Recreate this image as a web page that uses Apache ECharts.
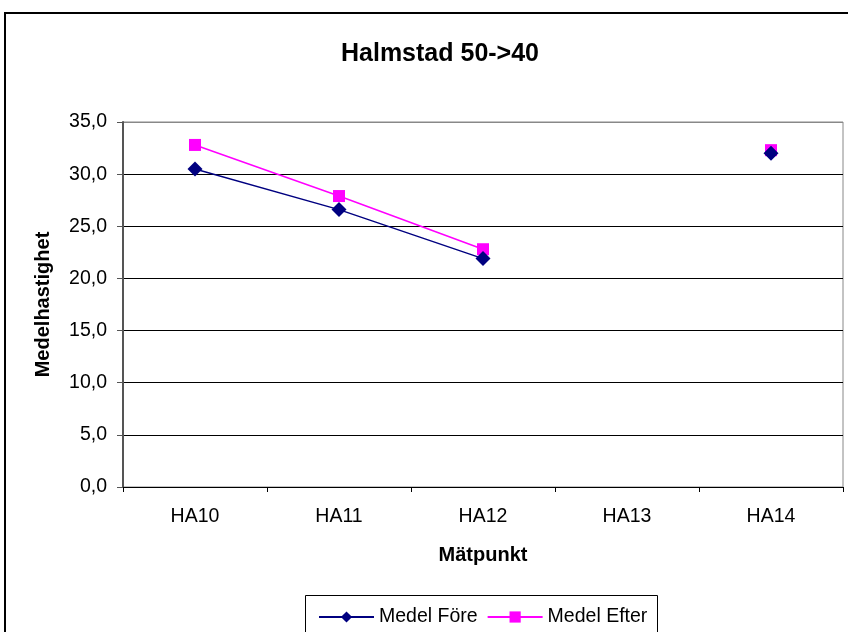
<!DOCTYPE html>
<html>
<head>
<meta charset="utf-8">
<script src="https://cdn.jsdelivr.net/npm/echarts@6/dist/echarts.min.js"></script>
<style>
  html, body { margin: 0; padding: 0; background: #fff; }
  #charts_main { width: 848px; height: 632px; }
</style>
</head>
<body>
<div id="charts_main"></div>
<script>
// data
const categories = ['HA10', 'HA11', 'HA12', 'HA13', 'HA14'];
const medelFore = [30.5, 26.6, 21.9, null, 32.0];
const medelEfter = [32.8, 27.9, 22.8, null, 32.3];
const yTicks = [0, 5, 10, 15, 20, 25, 30, 35];

const font = 'Arial, "Liberation Sans", sans-serif';

const Chart = echarts.init(document.getElementById('charts_main'));

// gridline colours: black, except the top one which is the grey plot border
const splitColors = yTicks.map((v, i) => i === yTicks.length - 1 ? '#888888' : '#000000');

const option = {
  backgroundColor: '#ffffff',
  animation: false,
  title: {
    text: 'Halmstad 50->40',
    left: 435,
    textAlign: 'center',
    top: 37,
    textStyle: { fontFamily: font, fontSize: 25, fontWeight: 'bold', color: '#000' }
  },
  legend: {
    left: 313,
    top: 602,
    itemGap: 9,
    itemWidth: 55,
    itemHeight: 14,
    textStyle: { fontFamily: font, fontSize: 19.5, color: '#000' },
    data: ['Medel Före', 'Medel Efter']
  },
  grid: {
    left: 123,
    right: 5,
    top: 122,
    bottom: 145,
    show: true,
    borderColor: '#888888',
    borderWidth: 1,
    containLabel: false
  },
  xAxis: {
    type: 'category',
    data: categories,
    boundaryGap: true,
    name: 'Mätpunkt',
    nameLocation: 'middle',
    nameGap: 58,
    nameTextStyle: { fontFamily: font, fontSize: 20, fontWeight: 'bold', color: '#000' },
    axisLine: { lineStyle: { color: '#000', width: 1 } },
    axisTick: { show: true, length: 5, lineStyle: { color: '#000' } },
    axisLabel: { fontFamily: font, fontSize: 19.5, color: '#000', margin: 20 }
  },
  yAxis: {
    type: 'value',
    min: 0,
    max: 35,
    interval: 5,
    name: 'Medelhastighet',
    nameLocation: 'middle',
    nameGap: 70,
    nameRotate: 90,
    nameTextStyle: { fontFamily: font, fontSize: 20, fontWeight: 'bold', color: '#000' },
    axisLine: { show: true, lineStyle: { color: '#555', width: 2 } },
    axisTick: { show: true, length: 6, lineStyle: { color: '#555' } },
    axisLabel: {
      fontFamily: font, fontSize: 19.5, color: '#000', margin: 16,
      formatter: v => v.toFixed(1).replace('.', ',')
    },
    splitLine: { show: true, lineStyle: { color: splitColors, width: 1 } }
  },
  series: [
    {
      name: 'Medel Före',
      type: 'line',
      data: medelFore,
      connectNulls: false,
      symbol: 'diamond',
      symbolSize: 15,
      itemStyle: { color: '#000080' },
      lineStyle: { color: '#000080', width: 1.5 },
      z: 3
    },
    {
      name: 'Medel Efter',
      type: 'line',
      data: medelEfter,
      connectNulls: false,
      symbol: 'rect',
      symbolSize: 12,
      itemStyle: { color: '#ff00ff' },
      lineStyle: { color: '#ff00ff', width: 1.5 },
      z: 2
    }
  ],
  graphic: [
    {
      type: 'rect',
      shape: { x: 5, y: 13, width: 900, height: 700 },
      style: { fill: 'none', stroke: '#000', lineWidth: 2 },
      silent: true
    },
    {
      type: 'rect',
      shape: { x: 305.5, y: 595.5, width: 352, height: 60 },
      style: { fill: 'none', stroke: '#000', lineWidth: 1 },
      silent: true
    }
  ]
};

Chart.setOption(option);
</script>
</body>
</html>
